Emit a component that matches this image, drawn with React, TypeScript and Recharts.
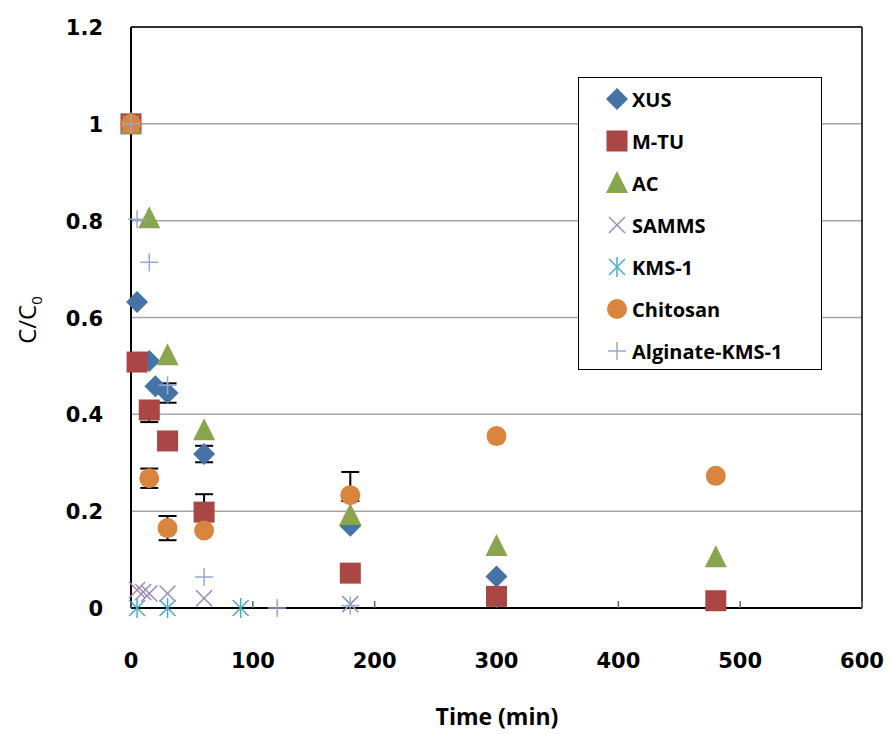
import React from 'react';
import { ScatterChart, Scatter, XAxis, YAxis, CartesianGrid, ErrorBar, ReferenceLine } from 'recharts';

type Pt = { t: number; c: number; err?: number | [number, number] };

// C/C0 vs time (min)
const xus: Pt[] = [
  { t: 0, c: 1 }, { t: 5, c: 0.632 }, { t: 15, c: 0.51 }, { t: 20, c: 0.458 },
  { t: 30, c: 0.444, err: 0.02 }, { t: 60, c: 0.318, err: 0.017 }, { t: 180, c: 0.17 }, { t: 300, c: 0.065 },
];
const mtu: Pt[] = [
  { t: 0, c: 1 }, { t: 5, c: 0.508 }, { t: 15, c: 0.409, err: [0.025, 0.01] }, { t: 30, c: 0.345 },
  { t: 60, c: 0.198, err: [0.015, 0.037] }, { t: 180, c: 0.072 }, { t: 300, c: 0.024 }, { t: 480, c: 0.015 },
];
const ac: Pt[] = [
  { t: 0, c: 1 }, { t: 15, c: 0.805 }, { t: 30, c: 0.522 }, { t: 60, c: 0.367 },
  { t: 180, c: 0.192 }, { t: 300, c: 0.128 }, { t: 480, c: 0.105 },
];
const samms: Pt[] = [
  { t: 0, c: 1 }, { t: 5, c: 0.037 }, { t: 10, c: 0.033 }, { t: 15, c: 0.03 },
  { t: 30, c: 0.03 }, { t: 60, c: 0.02 }, { t: 180, c: 0.008 },
];
const kms1: Pt[] = [{ t: 0, c: 1 }, { t: 5, c: 0 }, { t: 30, c: 0 }, { t: 90, c: 0 }];
const chitosan: Pt[] = [
  { t: 0, c: 1 }, { t: 15, c: 0.268, err: 0.02 }, { t: 30, c: 0.165, err: 0.025 }, { t: 60, c: 0.16 },
  { t: 180, c: 0.233, err: [0.012, 0.048] }, { t: 300, c: 0.355 }, { t: 480, c: 0.273 },
];
const alginate: Pt[] = [
  { t: 0, c: 1 }, { t: 5, c: 0.803 }, { t: 15, c: 0.714 }, { t: 30, c: 0.46 },
  { t: 60, c: 0.064 }, { t: 120, c: 0 }, { t: 180, c: 0.005 },
];

const xTicks = [0, 100, 200, 300, 400, 500, 600];
const yTicks = [0, 0.2, 0.4, 0.6, 0.8, 1, 1.2];

type Kind = 'diamond' | 'square' | 'triangle' | 'x' | 'star' | 'circle' | 'plus';

const series: { name: string; data: Pt[]; kind: Kind; color: string }[] = [
  { name: 'XUS', data: xus, kind: 'diamond', color: '#4572A7' },
  { name: 'M-TU', data: mtu, kind: 'square', color: '#AA4643' },
  { name: 'AC', data: ac, kind: 'triangle', color: '#89A54E' },
  { name: 'SAMMS', data: samms, kind: 'x', color: '#9D8BB7' },
  { name: 'KMS-1', data: kms1, kind: 'star', color: '#4BACC6' },
  { name: 'Chitosan', data: chitosan, kind: 'circle', color: '#DB843D' },
  { name: 'Alginate-KMS-1', data: alginate, kind: 'plus', color: '#93A9CF' },
];

const Marker = ({ kind, color, x, y }: { kind: Kind; color: string; x: number; y: number }) => {
  switch (kind) {
    case 'diamond':
      return <polygon points={`${x},${y - 11} ${x + 11},${y} ${x},${y + 11} ${x - 11},${y}`} fill={color} />;
    case 'square':
      return <rect x={x - 10.5} y={y - 10.5} width={21} height={21} fill={color} />;
    case 'triangle':
      return <polygon points={`${x},${y - 12} ${x + 11},${y + 10} ${x - 11},${y + 10}`} fill={color} />;
    case 'circle':
      return <circle cx={x} cy={y} r={10} fill={color} />;
    case 'x':
      return (
        <g stroke={color} strokeWidth={1.5}>
          <line x1={x - 8} y1={y - 8} x2={x + 8} y2={y + 8} />
          <line x1={x - 8} y1={y + 8} x2={x + 8} y2={y - 8} />
        </g>
      );
    case 'star':
      return (
        <g stroke={color} strokeWidth={1.5}>
          <line x1={x - 8} y1={y - 8} x2={x + 8} y2={y + 8} />
          <line x1={x - 8} y1={y + 8} x2={x + 8} y2={y - 8} />
          <line x1={x} y1={y - 10} x2={x} y2={y + 10} />
        </g>
      );
    case 'plus':
      return (
        <g stroke={color} strokeWidth={1.5}>
          <line x1={x - 9} y1={y} x2={x + 9} y2={y} />
          <line x1={x} y1={y - 9} x2={x} y2={y + 9} />
        </g>
      );
  }
};

const XTick = (p: any) => (
  <g>
    <line x1={p.x} y1={p.y} x2={p.x} y2={p.y - 7} stroke="#666" strokeWidth={1.5} />
    <text x={p.x} y={p.y + 60} textAnchor="middle" fontFamily="DejaVu Sans" fontWeight="bold" fontSize={21} fill="#000">
      {p.payload.value}
    </text>
  </g>
);

const YTick = (p: any) => (
  <text x={p.x - 28} y={p.y + 8} textAnchor="end" fontFamily="DejaVu Sans" fontWeight="bold" fontSize={21} fill="#000">
    {p.payload.value}
  </text>
);

const XTitle = () => (
  <text x={497} y={725} textAnchor="middle" fontFamily="Open Sans" fontWeight={700} fontSize={23} fill="#000">
    Time (min)
  </text>
);

const YTitle = () => (
  <text x={36} y={320} transform="rotate(-90, 36, 320)" textAnchor="middle" fontFamily="Open Sans" fontSize={24} fill="#000">
    C/C<tspan fontSize={15} dy={6}>0</tspan>
  </text>
);

export default function App() {
  return (
    <div style={{ position: 'absolute', left: 0, top: 0, width: 893, height: 734, background: '#fff' }}>
      <ScatterChart width={893} height={734} margin={{ top: 27, right: 31, bottom: 0, left: 0 }}>
        <CartesianGrid vertical={false} stroke="#a6a6a6" strokeWidth={1.5} />
        <XAxis
          type="number"
          dataKey="t"
          domain={[0, 600]}
          ticks={xTicks}
          height={126}
          tickSize={0}
          tickMargin={0}
          tick={XTick}
          axisLine={{ stroke: '#000', strokeWidth: 2 }}
          label={{ content: XTitle }}
        />
        <YAxis
          type="number"
          dataKey="c"
          domain={[0, 1.2]}
          ticks={yTicks}
          width={131}
          tickSize={0}
          tickMargin={0}
          tick={YTick}
          axisLine={{ stroke: '#000', strokeWidth: 2 }}
          label={{ content: YTitle }}
        />
        <ReferenceLine y={1.2} stroke="#000" strokeWidth={1.5} />
        <ReferenceLine x={600} stroke="#000" strokeWidth={1.5} />
        {series.map((s) => (
          <Scatter
            key={s.name}
            name={s.name}
            data={s.data}
            isAnimationActive={false}
            shape={(p: any) => <Marker kind={s.kind} color={s.color} x={p.cx} y={p.cy} />}
          >
            <ErrorBar dataKey="err" direction="y" width={9} stroke="#000" strokeWidth={2} />
          </Scatter>
        ))}
      </ScatterChart>
      <div
        style={{
          position: 'absolute',
          left: 578,
          top: 77,
          width: 244,
          height: 293,
          border: '1.5px solid #000',
          boxSizing: 'border-box',
          background: '#fff',
        }}
      >
        {series.map((s, i) => (
          <div
            key={s.name}
            style={{ position: 'absolute', left: 26, top: 8 + i * 42, height: 26, display: 'flex', alignItems: 'center' }}
          >
            <svg width={24} height={24} style={{ marginRight: 3 }}>
              <Marker kind={s.kind} color={s.color} x={12} y={12} />
            </svg>
            <span style={{ fontFamily: 'Open Sans', fontWeight: 700, fontSize: 20, color: '#000', whiteSpace: 'nowrap' }}>
              {s.name}
            </span>
          </div>
        ))}
      </div>
    </div>
  );
}
